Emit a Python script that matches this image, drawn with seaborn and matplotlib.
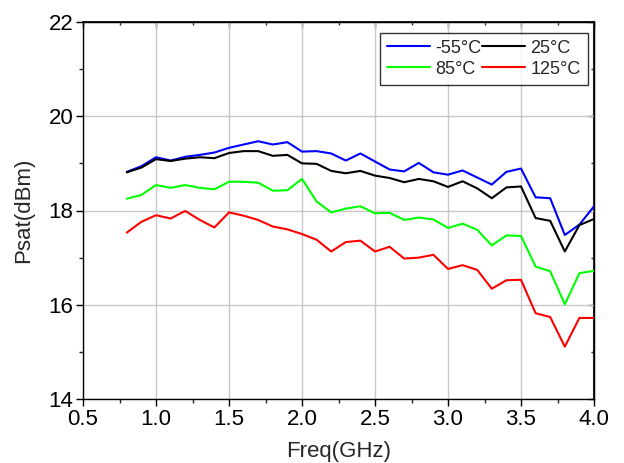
import numpy as np
import pandas as pd
import matplotlib
matplotlib.use("Agg")
import matplotlib.pyplot as plt
import seaborn as sns
from matplotlib.ticker import MultipleLocator, FormatStrFormatter
from matplotlib.lines import Line2D

freq = [round(0.8 + 0.1 * i, 1) for i in range(33)]

psat_m55 = [18.82, 18.94, 19.13, 19.06, 19.14, 19.18, 19.23, 19.33, 19.40, 19.47,
            19.40, 19.45, 19.25, 19.26, 19.21, 19.06, 19.21, 19.04, 18.87, 18.83,
            19.01, 18.81, 18.76, 18.85, 18.70, 18.55, 18.82, 18.89, 18.28, 18.26,
            17.48, 17.70, 18.09]
psat_25 = [18.81, 18.91, 19.09, 19.05, 19.10, 19.13, 19.11, 19.22, 19.26, 19.26,
           19.16, 19.18, 19.00, 18.99, 18.84, 18.79, 18.84, 18.74, 18.69, 18.60,
           18.67, 18.62, 18.50, 18.62, 18.47, 18.26, 18.49, 18.51, 17.84, 17.78,
           17.13, 17.69, 17.82]
psat_85 = [18.25, 18.33, 18.54, 18.48, 18.54, 18.48, 18.45, 18.61, 18.61, 18.59,
           18.42, 18.43, 18.67, 18.19, 17.96, 18.04, 18.09, 17.94, 17.95, 17.80,
           17.85, 17.81, 17.63, 17.72, 17.59, 17.26, 17.47, 17.46, 16.81, 16.71,
           16.01, 16.67, 16.72]
psat_125 = [17.53, 17.76, 17.90, 17.83, 17.99, 17.80, 17.64, 17.96, 17.89, 17.80,
            17.66, 17.60, 17.50, 17.38, 17.13, 17.33, 17.36, 17.13, 17.23, 16.98,
            17.00, 17.06, 16.76, 16.84, 16.74, 16.34, 16.52, 16.53, 15.82, 15.74,
            15.11, 15.72, 15.72]

labels = ["-55°C", "25°C", "85°C", "125°C"]
colors = ["#0000ff", "#000000", "#00ff00", "#ff0000"]

frames = []
for lab, vals in zip(labels, [psat_m55, psat_25, psat_85, psat_125]):
    frames.append(pd.DataFrame({"Freq": freq, "Psat": vals, "T": lab}))
df = pd.concat(frames, ignore_index=True)

sns.set_theme(style="white")
plt.rcParams["font.family"] = ["Liberation Sans", "DejaVu Sans"]

fig = plt.figure(figsize=(6.24, 4.63), dpi=100)
ax = fig.add_axes([83 / 624, 1 - 399 / 463, (594 - 83) / 624, (399 - 22) / 463])

sns.lineplot(data=df, x="Freq", y="Psat", hue="T", hue_order=labels,
             palette=dict(zip(labels, colors)), linewidth=1.5, ax=ax,
             legend=False, zorder=3)

ax.set_xlim(0.5, 4.0)
ax.set_ylim(14, 22)
ax.xaxis.set_major_locator(MultipleLocator(0.5))
ax.xaxis.set_minor_locator(MultipleLocator(0.25))
ax.xaxis.set_major_formatter(FormatStrFormatter("%.1f"))
ax.yaxis.set_major_locator(MultipleLocator(2))
ax.yaxis.set_minor_locator(MultipleLocator(1))
ax.grid(True, which="major", color="#c8c8c8", linewidth=1.0, zorder=0)
ax.set_axisbelow(True)

for s in ax.spines.values():
    s.set_color("black")
    s.set_linewidth(1.0)

ax.tick_params(axis="both", which="major", direction="out", length=5, width=1,
               labelsize=16, colors="black", bottom=True, left=True,
               top=False, right=False, pad=2)
ax.tick_params(axis="both", which="minor", direction="out", length=3, width=1,
               bottom=True, left=True, top=False, right=False)

# inward mirror ticks on top and right
secx = ax.secondary_xaxis("top")
secx.xaxis.set_major_locator(MultipleLocator(0.5))
secx.xaxis.set_minor_locator(MultipleLocator(0.25))
secx.tick_params(axis="x", which="major", direction="in", length=4, width=1,
                 labeltop=False, colors="black")
secx.tick_params(axis="x", which="minor", direction="in", length=2.5, width=1)
secx.spines["top"].set_color("black")
secy = ax.secondary_yaxis("right")
secy.yaxis.set_major_locator(MultipleLocator(2))
secy.yaxis.set_minor_locator(MultipleLocator(1))
secy.tick_params(axis="y", which="major", direction="in", length=4, width=1,
                 labelright=False, colors="black")
secy.tick_params(axis="y", which="minor", direction="in", length=2.5, width=1)
secy.spines["right"].set_color("black")
secy.spines["right"].set_linewidth(1.5)

ax.set_xlabel("Freq(GHz)", fontsize=16, labelpad=8)
ax.set_ylabel("Psat(dBm)", fontsize=16, labelpad=10)

order = [0, 2, 1, 3]
handles = [Line2D([], [], color=colors[i], linewidth=1.5) for i in order]
leg = ax.legend(handles, [labels[i] for i in order], ncol=2, loc="upper right",
                bbox_to_anchor=(0.988, 0.972), fontsize=13, frameon=True,
                fancybox=False, edgecolor="black", handlelength=2.4,
                handletextpad=0.3, columnspacing=0.0, borderpad=0.4,
                labelspacing=0.22, borderaxespad=0.0)
leg.get_frame().set_linewidth(1.0)

fig.savefig("out.png", dpi=100)
